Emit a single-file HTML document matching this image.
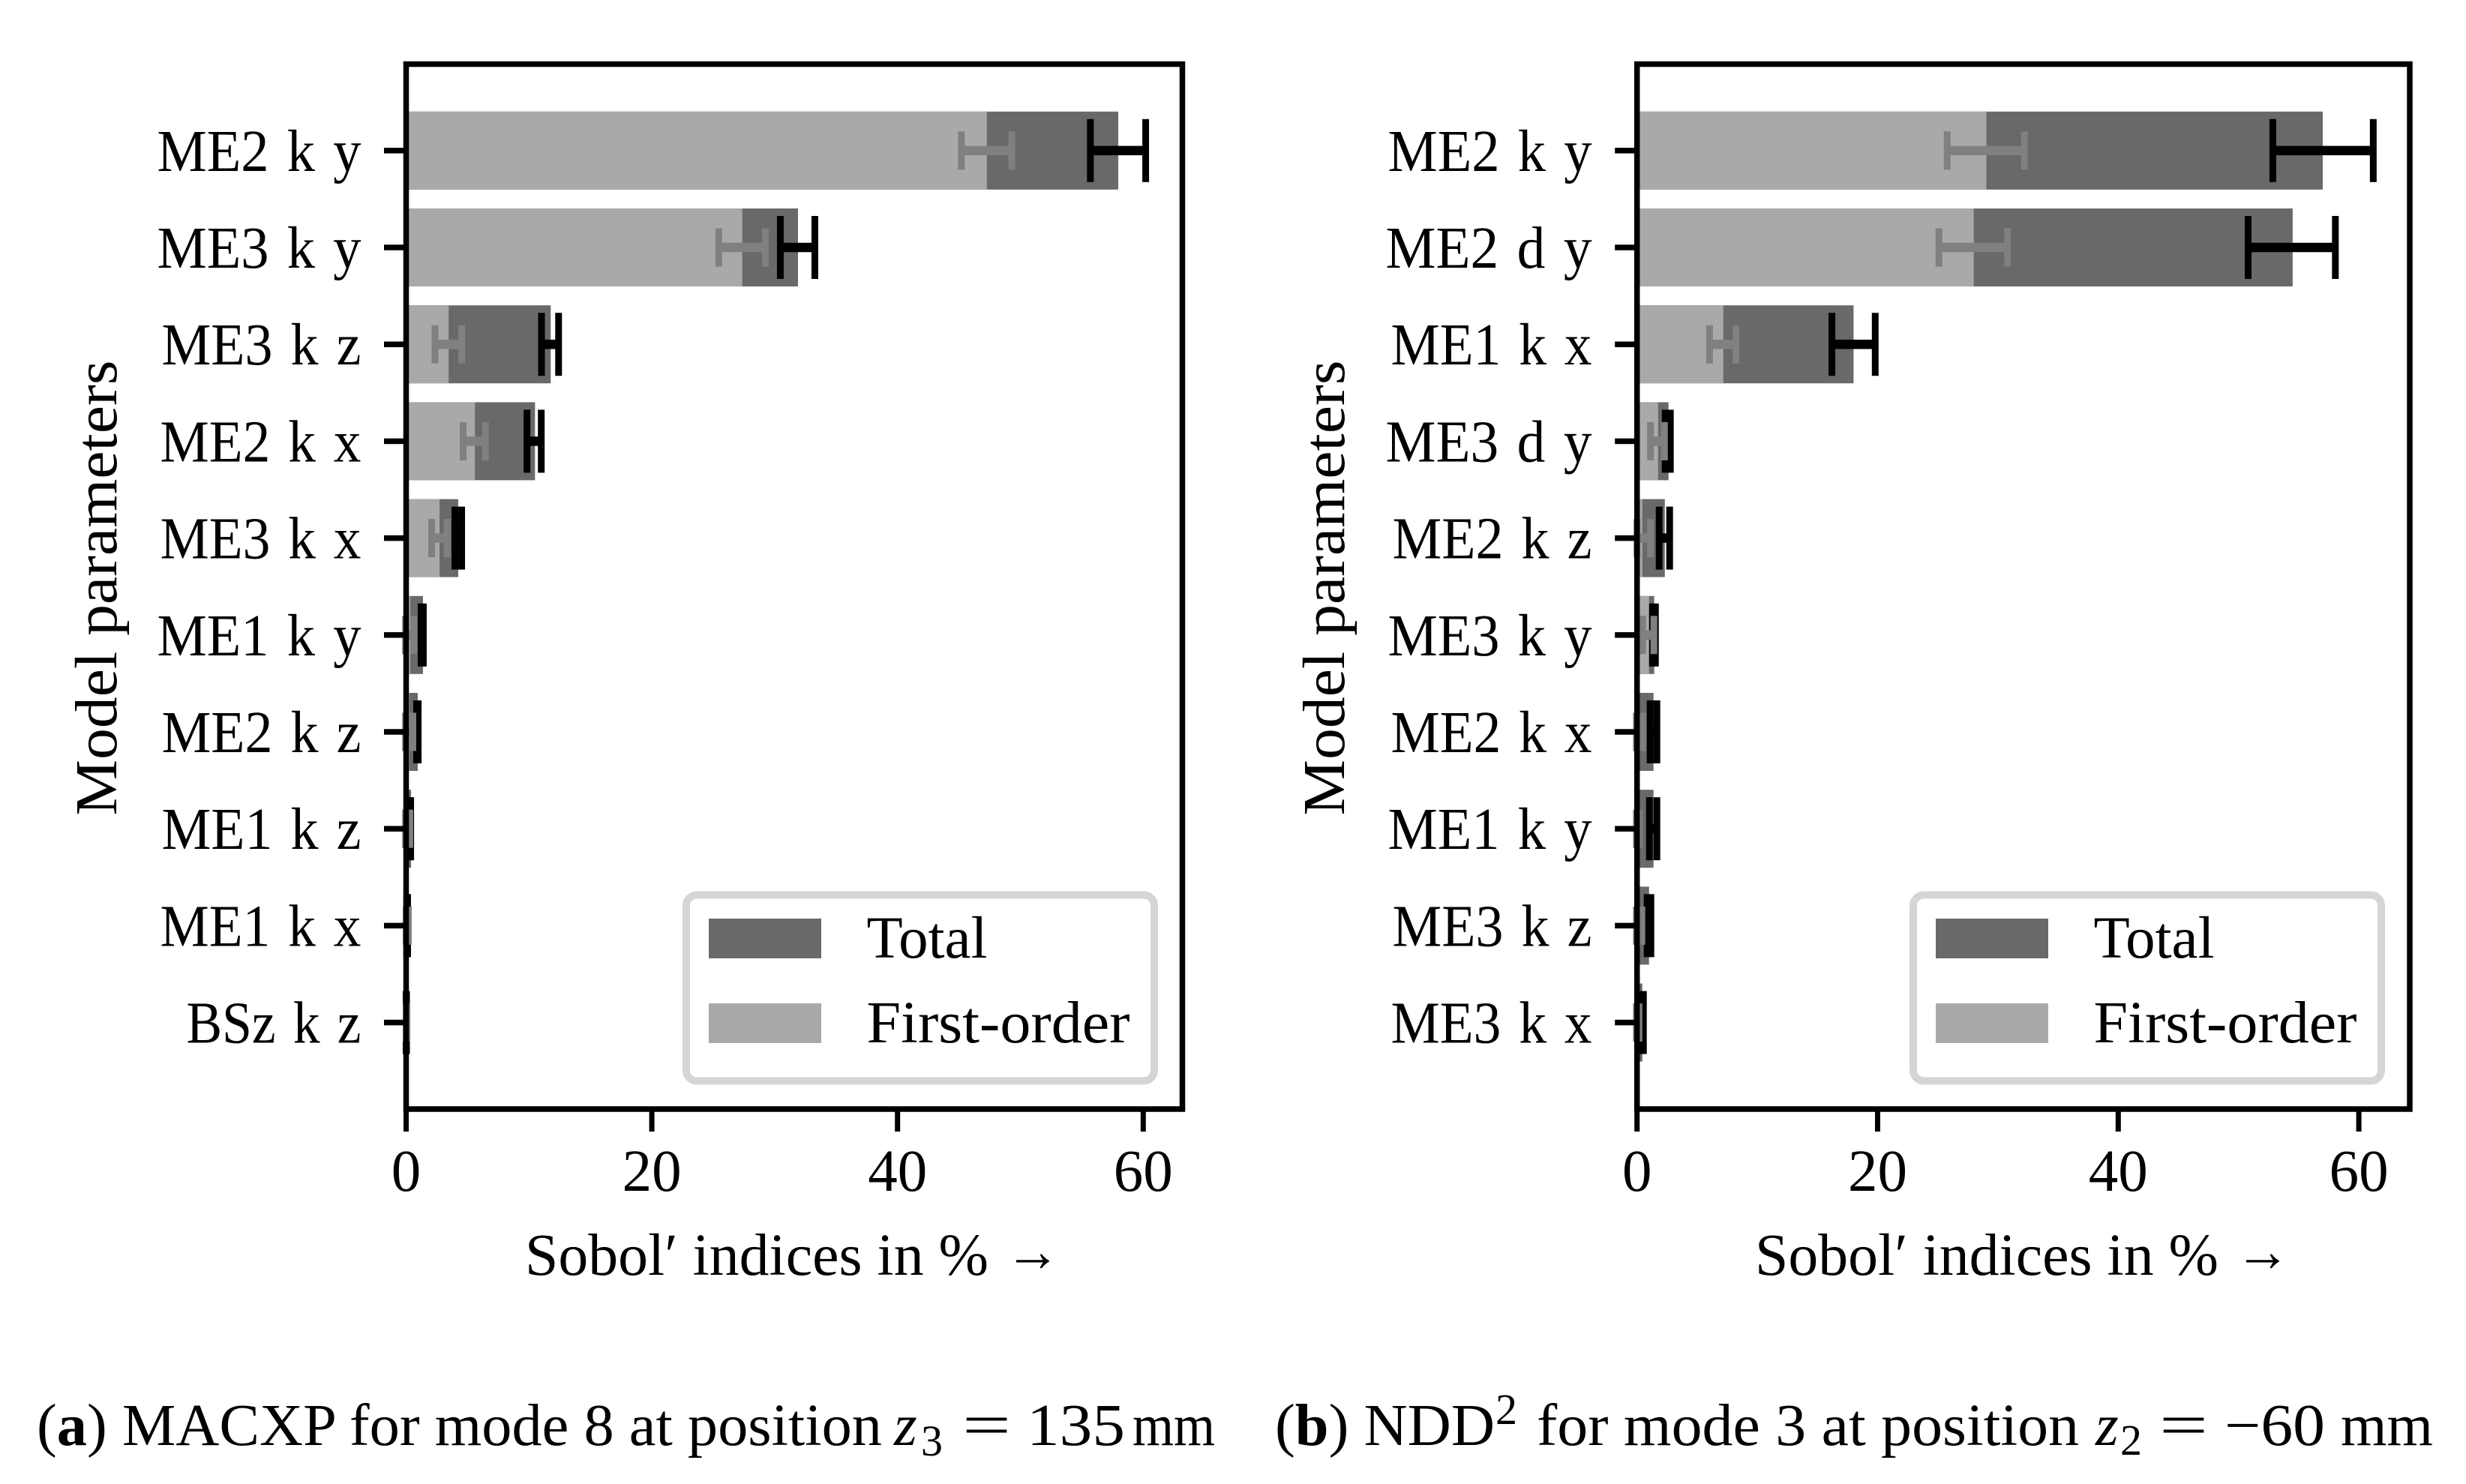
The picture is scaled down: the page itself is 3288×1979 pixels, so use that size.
<!DOCTYPE html>
<html lang="en">
<head>
<meta charset="utf-8">
<title>Sobol' indices bar charts</title>
<style>
  html, body { margin: 0; padding: 0; background: #fff; }
  svg { display: block; }
  text { font-family: "Liberation Serif", serif; fill: #000; font-size: 79px; }
</style>
</head>
<body>
<svg id="figure" xmlns="http://www.w3.org/2000/svg" width="3288" height="1979" viewBox="0 0 3288 1979">
  <rect x="0" y="0" width="3288" height="1979" fill="#fff"/>
  <g id="panelA"></g>
  <g id="panelB"></g>

  <g>
    <text x="49" y="1927" textLength="1127" lengthAdjust="spacingAndGlyphs">(<tspan font-weight="bold">a</tspan>) MACXP for mode 8 at position</text>
    <text x="1192" y="1927" font-style="italic">z</text>
    <text x="1228" y="1941" style="font-size:58px">3</text>
    <text x="1283" y="1927" textLength="65" lengthAdjust="spacingAndGlyphs">=</text>
    <text x="1369" y="1927" textLength="131" lengthAdjust="spacingAndGlyphs">135</text>
    <text x="1510" y="1927" textLength="110" lengthAdjust="spacingAndGlyphs">mm</text>
  </g>
  <g>
    <text x="1700" y="1927" textLength="293" lengthAdjust="spacingAndGlyphs">(<tspan font-weight="bold">b</tspan>) NDD</text>
    <text x="1994" y="1899" style="font-size:58px">2</text>
    <text x="2049" y="1927" textLength="723" lengthAdjust="spacingAndGlyphs">for mode 3 at position</text>
    <text x="2794" y="1927" font-style="italic">z</text>
    <text x="2827" y="1940" style="font-size:58px">2</text>
    <text x="2879" y="1927" textLength="65" lengthAdjust="spacingAndGlyphs">=</text>
    <text x="2966" y="1927" textLength="134" lengthAdjust="spacingAndGlyphs">−60</text>
    <text x="3121" y="1927" textLength="123" lengthAdjust="spacingAndGlyphs">mm</text>
  </g>
</svg>
<script>
const tickValues = [0, 20, 40, 60];

const categoriesA = ['ME2 k y', 'ME3 k y', 'ME3 k z', 'ME2 k x', 'ME3 k x', 'ME1 k y', 'ME2 k z', 'ME1 k z', 'ME1 k x', 'BSz k z'];
const firstA = [47.27, 27.36, 3.46, 5.6, 2.72, 0.34, 0.27, 0.05, 0.03, 0.02];
const totalA = [57.97, 31.9, 11.77, 10.49, 4.24, 1.37, 0.95, 0.4, 0.1, 0.03];
const totalLowA = [55.7, 30.46, 11.02, 9.84, 3.97, 1.22, 0.85, 0.25, 0.05, 0];
const totalHighA = [60.2, 33.27, 12.41, 11.0, 4.52, 1.4, 0.98, 0.37, 0.12, 0.03];
const firstLowA = [45.2, 25.45, 2.35, 4.64, 2.08, -0.05, -0.05, -0.05, 0, 0];
const firstHighA = [49.3, 29.24, 4.53, 6.46, 3.33, 0.61, 0.55, 0.3, 0.18, 0.06];

const categoriesB = ['ME2 k y', 'ME2 d y', 'ME1 k x', 'ME3 d y', 'ME2 k z', 'ME3 k y', 'ME2 k x', 'ME1 k y', 'ME3 k z', 'ME3 k x'];
const firstB = [29.04, 27.99, 7.17, 1.75, 0.44, 1.0, 0.03, 0.03, 0.1, 0.05];
const totalB = [57, 54.5, 18, 2.62, 2.31, 1.43, 1.37, 1.37, 1.0, 0.44];
const totalLowB = [52.85, 50.8, 16.2, 2.34, 1.84, 1.22, 1.09, 1.03, 0.84, 0.15];
const totalHighB = [61.2, 58.05, 19.8, 2.77, 2.71, 1.53, 1.65, 1.65, 1.15, 0.53];
const firstLowB = [25.78, 25.1, 6.03, 1.12, 0, 0.47, -0.05, -0.05, -0.05, -0.05];
const firstHighB = [32.2, 30.8, 8.22, 2.28, 1.12, 1.4, 0.47, 0.16, 0.4, 0.16];

const NS = 'http://www.w3.org/2000/svg';
const COLOR_TOTAL = '#696969';
const COLOR_FIRST = '#a9a9a9';
const COLOR_FIRST_ERR = '#808080';
const COLOR_TOTAL_ERR = '#000000';

function shape(parent, tag, attrs) {
  const el = document.createElementNS(NS, tag);
  for (const k in attrs) el.setAttribute(k, attrs[k]);
  parent.appendChild(el);
  return el;
}
function rect(parent, x, y, w, h, fill) {
  return shape(parent, 'rect', { x: x, y: y, width: w, height: h, fill: fill });
}
function label(parent, x, y, str, anchor) {
  const t = shape(parent, 'text', { x: x, y: y, 'text-anchor': anchor });
  t.textContent = str;
  return t;
}

function labelWidth(str) {
  if (str.indexOf('BSz') === 0) return 233;
  if (str.indexOf(' d ') > 0) return 275;
  if (str.slice(-1) === 'z') return 266;
  if (str.slice(-1) === 'x') return 268;
  return 272;
}

function drawPanel(root, cfg, categories, first, total, totalLow, totalHigh, firstLow, firstHigh) {
  const xScale = function (v) { return cfg.x0 + v * cfg.unit; };
  const yScale = function (i) { return 200.8 + i * 129.2; };
  const barH = 104;
  const capW = 9;
  const lineH = 12.5;

  categories.forEach(function (name, i) {
    const y = yScale(i);

    const barTotal = rect(root, xScale(0), y - barH / 2, xScale(total[i]) - xScale(0), barH, COLOR_TOTAL);
    
    

    const errLine = rect(root, xScale(totalLow[i]), y - lineH / 2, xScale(totalHigh[i]) - xScale(totalLow[i]), lineH, COLOR_TOTAL_ERR);
    
    

    const errCapLow = rect(root, xScale(totalLow[i]) - capW / 2, y - 42, capW, 84, COLOR_TOTAL_ERR);
    
    

    const errCapHigh = rect(root, xScale(totalHigh[i]) - capW / 2, y - 42, capW, 84, COLOR_TOTAL_ERR);
    
    

    const barFirst = rect(root, xScale(0), y - barH / 2, xScale(first[i]) - xScale(0), barH, COLOR_FIRST);
    
    

    const fLine = rect(root, xScale(firstLow[i]), y - lineH / 2, xScale(firstHigh[i]) - xScale(firstLow[i]), lineH, COLOR_FIRST_ERR);
    
    

    const fCapLow = rect(root, xScale(firstLow[i]) - capW / 2, y - 25.5, capW, 51, COLOR_FIRST_ERR);
    
    

    const fCapHigh = rect(root, xScale(firstHigh[i]) - capW / 2, y - 25.5, capW, 51, COLOR_FIRST_ERR);
    
    

    const yTick = rect(root, cfg.x0 - 29.5, y - 3.75, 29.5, 7.5, '#000');
    
    

    const yLabel = label(root, cfg.labelRight, y + 27, name, 'end');
    yLabel.setAttribute('word-spacing', '6');
    yLabel.setAttribute('textLength', labelWidth(name));
    yLabel.setAttribute('lengthAdjust', 'spacingAndGlyphs');
    
    
  });

  tickValues.forEach(function (v) {
    const xTick = rect(root, xScale(v) - 3.5, cfg.yBottom, 7, 30, '#000');
    
    

    const xLabel = label(root, xScale(v), 1588, String(v), 'middle');
    
    
  });

  const frame = shape(root, 'rect', {
    x: cfg.x0, y: cfg.yTop, width: cfg.xRight - cfg.x0, height: cfg.yBottom - cfg.yTop,
    fill: 'none', stroke: '#000', 'stroke-width': 7.5
  });
  
  

  const xTitle = label(root, cfg.xTitleLeft, 1700, 'Sobol′ indices in %', 'start');
  xTitle.setAttribute('textLength', '618');
  xTitle.setAttribute('lengthAdjust', 'spacingAndGlyphs');
  
  

  const xArrow = label(root, cfg.xTitleLeft + 640, 1695, '→', 'start');
  xArrow.setAttribute('textLength', '74');
  xArrow.setAttribute('lengthAdjust', 'spacingAndGlyphs');
  
  

  const yTitle = label(root, 0, 0, 'Model parameters', 'middle');
  yTitle.setAttribute('transform', 'translate(' + cfg.yTitleX + ',784) rotate(-90)');
  yTitle.setAttribute('textLength', '607');
  yTitle.setAttribute('lengthAdjust', 'spacingAndGlyphs');
  
  

  const legend = shape(root, 'g', { transform: 'translate(' + cfg.legendDx + ',0)' });
  
  

  const legendBox = shape(legend, 'rect', {
    x: 915, y: 1193.5, width: 624, height: 248, rx: 14, ry: 14,
    fill: '#fff', stroke: '#d5d5d5', 'stroke-width': 10
  });
  
  

  const swatchTotal = rect(legend, 945, 1225, 150, 53, COLOR_TOTAL);
  
  

  const swatchFirst = rect(legend, 945, 1338, 150, 53, COLOR_FIRST);
  
  

  const textTotal = label(legend, 1155.5, 1277, 'Total', 'start');
  textTotal.setAttribute('textLength', '161');
  textTotal.setAttribute('lengthAdjust', 'spacingAndGlyphs');
  
  

  const textFirst = label(legend, 1155.5, 1390, 'First-order', 'start');
  textFirst.setAttribute('textLength', '351');
  textFirst.setAttribute('lengthAdjust', 'spacingAndGlyphs');
  
  
}

drawPanel(document.getElementById('panelA'),
  { x0: 541.5, unit: 16.38, xRight: 1576.5, yTop: 85.5, yBottom: 1479, labelRight: 481.5, xTitleLeft: 700, yTitleX: 155, legendDx: 0 },
  categoriesA, firstA, totalA, totalLowA, totalHighA, firstLowA, firstHighA);

drawPanel(document.getElementById('panelB'),
  { x0: 2182.7, unit: 16.04, xRight: 3213, yTop: 85.5, yBottom: 1479, labelRight: 2122.5, xTitleLeft: 2340, yTitleX: 1792, legendDx: 1636 },
  categoriesB, firstB, totalB, totalLowB, totalHighB, firstLowB, firstHighB);
</script>
</body>
</html>
